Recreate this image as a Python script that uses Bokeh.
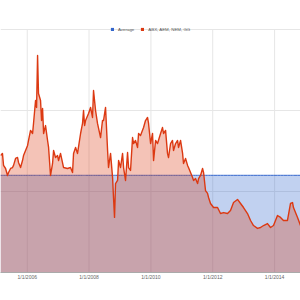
import pandas as pd
from bokeh.plotting import figure
from bokeh.models import (ColumnDataSource, Range1d, FixedTicker, DatetimeTickFormatter,
                          Legend, LegendItem)
from bokeh.embed import file_html
from bokeh.resources import INLINE

# ---- data ----
dates = [
    "2005-02-19", "2005-03-14", "2005-03-27", "2005-04-20", "2005-05-13", "2005-05-25",
    "2005-06-18", "2005-07-11", "2005-07-23", "2005-08-16", "2005-09-08", "2005-09-20",
    "2005-10-14", "2005-11-06", "2005-11-18", "2005-12-12", "2006-01-05", "2006-01-16",
    "2006-02-09", "2006-03-05", "2006-03-16", "2006-04-09", "2006-04-21", "2006-05-03",
    "2006-05-14", "2006-06-07", "2006-06-19", "2006-07-01", "2006-07-13", "2006-08-05",
    "2006-08-29", "2006-09-10", "2006-10-03", "2006-10-27", "2006-11-08", "2006-12-01",
    "2006-12-25", "2007-01-06", "2007-01-29", "2007-03-06", "2007-04-22", "2007-05-27",
    "2007-06-20", "2007-07-02", "2007-07-26", "2007-08-18", "2007-09-23", "2007-10-16",
    "2007-10-28", "2007-11-09", "2007-11-21", "2007-12-26", "2008-01-19", "2008-02-11",
    "2008-02-23", "2008-03-18", "2008-04-10", "2008-05-16", "2008-06-08", "2008-06-20",
    "2008-07-14", "2008-08-07", "2008-08-18", "2008-09-11", "2008-10-05", "2008-10-16",
    "2008-10-28", "2008-11-09", "2008-12-03", "2008-12-15", "2009-01-07", "2009-01-31",
    "2009-02-12", "2009-03-07", "2009-03-31", "2009-04-12", "2009-05-05", "2009-05-29",
    "2009-06-10", "2009-07-03", "2009-07-27", "2009-08-08", "2009-08-31", "2009-10-06",
    "2009-10-29", "2009-11-22", "2009-12-04", "2009-12-28", "2010-01-20", "2010-02-01",
    "2010-02-25", "2010-03-20", "2010-04-25", "2010-05-18", "2010-05-30", "2010-06-23",
    "2010-07-16", "2010-07-28", "2010-08-21", "2010-09-13", "2010-09-25", "2010-10-19",
    "2010-11-12", "2010-11-23", "2010-12-17", "2011-01-10", "2011-01-21", "2011-02-14",
    "2011-03-10", "2011-03-21", "2011-04-14", "2011-05-08", "2011-05-20", "2011-06-12",
    "2011-07-06", "2011-07-18", "2011-08-10", "2011-09-03", "2011-09-15", "2011-10-08",
    "2011-11-01", "2011-11-13", "2011-12-06", "2012-01-11", "2012-02-27", "2012-04-02",
    "2012-05-08", "2012-06-24", "2012-07-29", "2012-09-03", "2012-10-20", "2012-11-25",
    "2012-12-30", "2013-02-15", "2013-03-23", "2013-04-27", "2013-06-13", "2013-07-19",
    "2013-08-23", "2013-10-09", "2013-11-14", "2013-12-19", "2014-02-04", "2014-03-12",
    "2014-04-16", "2014-06-02", "2014-07-08", "2014-08-01", "2014-08-12", "2014-09-29",
    "2014-11-03",
]
miners = [
    72.2, 73.5, 66.1, 64.2, 59.9, 61.7,
    64.2, 64.8, 66.1, 70.4, 71.0, 67.9,
    64.8, 69.1, 72.2, 75.3, 78.4, 81.5,
    87.7, 85.8, 92.0, 106.2, 101.9, 134.0,
    110.5, 106.2, 93.8, 101.2, 85.8, 90.7,
    81.5, 77.2, 59.9, 67.3, 75.3, 71.0,
    72.2, 69.1, 73.5, 64.8, 64.2, 64.8,
    61.7, 73.5, 77.2, 73.5, 85.8, 92.0,
    100.0, 90.7, 93.8, 98.1, 101.9, 95.7,
    112.3, 100.0, 92.0, 83.3, 93.8, 93.8,
    101.9, 75.3, 64.8, 73.5, 58.6, 46.3,
    34.0, 54.9, 56.8, 69.1, 64.8, 73.5,
    64.8, 56.8, 74.1, 64.8, 63.0, 83.3,
    79.6, 81.5, 77.2, 85.8, 84.6, 89.5,
    93.8, 95.7, 92.0, 79.6, 85.8, 69.1,
    81.5, 79.6, 85.8, 89.5, 85.8, 87.7,
    73.5, 71.0, 79.6, 81.5, 75.3, 79.6,
    81.5, 77.2, 81.5, 73.5, 67.3, 70.4,
    66.1, 64.8, 61.7, 58.6, 56.8, 58.0,
    54.9, 58.0, 59.9, 64.2, 61.7, 50.6,
    48.8, 46.3, 42.6, 40.1, 40.1, 36.4,
    37.0, 36.4, 38.3, 43.2, 45.1, 42.6,
    40.1, 36.4, 32.1, 29.0, 27.2, 27.8,
    29.0, 30.2, 27.8, 29.0, 35.2, 34.0,
    32.1, 32.1, 42.6, 43.2, 40.1, 34.0,
    29.0,
]
average_value = 60.0
series_names = ["Average", "ABX, AEM, NEM, GG"]
tick_dates = ["2006-01-01", "2008-01-01", "2010-01-01", "2012-01-01", "2014-01-01"]
y_ticks = [0, 50, 100, 150]
x_window = ["2005-02-19", "2014-11-03"]

BLUE = "#3366cc"
RED = "#dc3912"
GRID = "#e6e6e6"
FONT = "Liberation Sans"

# layout: top gridline sits 29px from the top; frame extends a bit higher so the
# legend (centred on that gridline) is not clipped
H = 300
BORDER_TOP = 13
BORDER_BOTTOM = 28
GRID_TOP_PX = 29
units_per_px = y_ticks[-1] / (H - BORDER_BOTTOM - GRID_TOP_PX)
y_end = y_ticks[-1] + (GRID_TOP_PX - BORDER_TOP) * units_per_px

x = pd.to_datetime(dates)
src = ColumnDataSource(dict(
    x=x,
    v=miners,
    avg=[average_value] * len(miners),
    base=[0.0] * len(miners),
))
tick_x = pd.to_datetime(tick_dates)

p = figure(width=300, height=H, x_axis_type="datetime", y_axis_location=None,
           output_backend="svg", toolbar_location=None,
           x_range=Range1d(pd.Timestamp(x_window[0]), pd.Timestamp(x_window[1])),
           y_range=Range1d(y_ticks[0], y_end),
           min_border_left=0, min_border_right=0,
           min_border_top=BORDER_TOP, min_border_bottom=BORDER_BOTTOM)
p.outline_line_color = None
p.background_fill_color = "white"
p.border_fill_color = "white"

# axes / grid
tick_ms = [t.value // 10**6 for t in tick_x]
p.xaxis.ticker = FixedTicker(ticks=tick_ms)
fmt = "%-m/%-d/%Y"
p.xaxis.formatter = DatetimeTickFormatter(years=fmt, months=fmt, days=fmt, hours=fmt,
                                          minutes=fmt, seconds=fmt, milliseconds=fmt,
                                          microseconds=fmt, minsec=fmt, hourmin=fmt)
p.xaxis.major_tick_line_color = None
p.xaxis.minor_tick_line_color = None
p.xaxis.major_tick_out = 0
p.xaxis.major_tick_in = 0
p.xaxis.axis_line_color = "#aaaaaa"
p.xaxis.major_label_text_font = FONT
p.xaxis.major_label_text_font_size = "5px"
p.xaxis.major_label_text_color = "#666666"
p.xaxis.major_label_standoff = 1

p.xgrid.visible = False
p.ygrid.ticker = FixedTicker(ticks=y_ticks)
p.ygrid.grid_line_color = GRID
# vertical gridlines that stop at the top horizontal gridline
p.segment(x0=tick_x, x1=tick_x, y0=[y_ticks[0]] * len(tick_x),
          y1=[y_ticks[-1]] * len(tick_x), line_color=GRID, line_width=1,
          level="underlay")

# areas and lines
p.varea(x="x", y1="base", y2="avg", source=src, fill_color=BLUE, fill_alpha=0.3)
p.line(x="x", y="avg", source=src, line_color=BLUE, line_width=1)
p.varea(x="x", y1="base", y2="v", source=src, fill_color=RED, fill_alpha=0.3)
p.line(x="x", y="v", source=src, line_color=RED, line_width=1.4, line_join="round")

# legend swatches: zero-height areas, drawn only as solid legend squares
sw_blue = p.varea(x="x", y1="base", y2="base", source=src, fill_color=BLUE)
sw_red = p.varea(x="x", y1="base", y2="base", source=src, fill_color=RED)
legend = Legend(items=[LegendItem(label=series_names[0], renderers=[sw_blue]),
                       LegendItem(label=series_names[1], renderers=[sw_red])],
                orientation="horizontal",
                location=(110, H - BORDER_BOTTOM - GRID_TOP_PX - 2.5),
                glyph_width=4, glyph_height=4, label_width=0, label_height=5,
                label_standoff=4, spacing=6, padding=0, margin=0,
                label_text_font=FONT, label_text_font_size="4.4px",
                label_text_color="#555555",
                background_fill_alpha=0, border_line_color=None)
p.add_layout(legend)

open("out.html", "w").write(file_html(p, INLINE))
